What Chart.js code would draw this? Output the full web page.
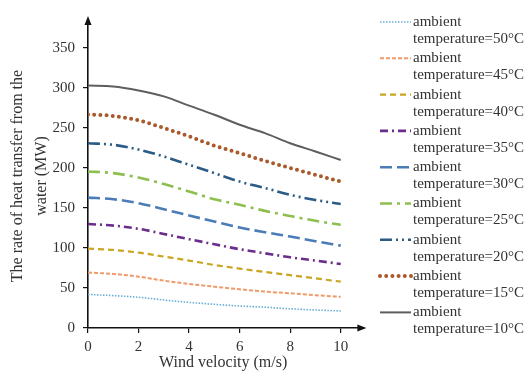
<!DOCTYPE html>
<html>
<head>
<meta charset="utf-8">
<script src="https://cdn.jsdelivr.net/npm/chart.js@4.4.0/dist/chart.umd.min.js"></script>
<style>
  html, body { margin: 0; padding: 0; background: #fff; }
</style>
</head>
<body>
<canvas id="heat-chart" width="527" height="374"></canvas>
<script>
/* ─── Data ───────────────────────────── */
const windVelocity = [0, 1, 2, 3, 4, 5, 6, 7, 8, 9, 10];
const ambientTemps = ['50', '45', '40', '35', '30', '25', '20', '15', '10'];
const yTicks = [0, 50, 100, 150, 200, 250, 300, 350];
const xTicks = [0, 2, 4, 6, 8, 10];

const heat50 = [42, 40.5, 38.4, 35, 32, 29.6, 27.5, 26, 24, 22.5, 21.3];
const heat45 = [69.3, 67.6, 64.2, 59.2, 55, 51.7, 48.4, 45.5, 43.4, 41, 39];
const heat40 = [99.3, 97.6, 94.3, 89.3, 84.3, 78.8, 74.3, 70, 66, 62, 58];
const heat35 = [130, 128, 124, 117.6, 111, 104.7, 98.5, 93.4, 88.4, 84.3, 80];
const heat30 = [163, 161, 156, 148.5, 140.6, 133, 125.6, 119.7, 114.3, 108.5, 103];
const heat25 = [195.7, 193.6, 188, 180, 170.6, 161, 154, 146.4, 140, 134, 129];
const heat20 = [231, 229, 223, 214.4, 204, 193.6, 183, 175, 166.5, 160, 155];
const heat15 = [267, 265, 259.5, 250, 239.5, 228, 218.6, 209, 200, 191.5, 183];
const heat10 = [303, 302, 297, 289.5, 278, 266.6, 254, 243.6, 231, 220.7, 210];

(function () {
  'use strict';

  const FONT = '"Liberation Serif", "Times New Roman", serif';
  const INK = '#333333';

  const STYLES = [
    { color: '#6aaed6', width: 1.6, dash: [1.5, 1.5], cap: 'butt' },
    { color: '#ef9a6a', width: 2,   dash: [4, 2],     cap: 'butt' },
    { color: '#c9a521', width: 2.2, dash: [6, 4],     cap: 'butt' },
    { color: '#6b2d8c', width: 2.6, dash: [8, 4, 2, 4], cap: 'butt' },
    { color: '#4b7cb8', width: 2.6, dash: [12, 5],    cap: 'butt' },
    { color: '#8dbf4e', width: 2.6, dash: [12, 5, 3, 5], cap: 'butt' },
    { color: '#2b5b86', width: 2.6, dash: [12, 4, 2, 4, 2, 4], cap: 'butt' },
    { color: '#a9592a', width: 4,   dash: [0, 6.2],   cap: 'round' },
    { color: '#5e5e5e', width: 2,   dash: [],         cap: 'butt' },
  ];
  const SERIES = [heat50, heat45, heat40, heat35, heat30, heat25, heat20, heat15, heat10];

  const datasets = SERIES.map((values, i) => ({
    label: 'ambient temperature=' + ambientTemps[i] + '°C',
    data: windVelocity.map((x, k) => ({ x, y: values[k] })),
    borderColor: STYLES[i].color,
    borderWidth: STYLES[i].width,
    borderDash: STYLES[i].dash,
    borderCapStyle: STYLES[i].cap,
    pointRadius: 0,
    fill: false,
    cubicInterpolationMode: 'monotone',
  }));

  /* ── axis arrows ── */
  const axisArrows = {
    id: 'axisArrows',
    afterDraw(chart) {
      const { ctx, chartArea } = chart;
      const { left, top, bottom, right } = chartArea;
      ctx.save();
      ctx.fillStyle = '#111';
      ctx.beginPath();
      ctx.moveTo(left, top - 8);
      ctx.lineTo(left - 3.5, top + 1);
      ctx.lineTo(left + 3.5, top + 1);
      ctx.closePath();
      ctx.fill();
      ctx.beginPath();
      ctx.moveTo(right + 8, bottom);
      ctx.lineTo(right - 1, bottom - 3.5);
      ctx.lineTo(right - 1, bottom + 3.5);
      ctx.closePath();
      ctx.fill();
      ctx.restore();
    },
  };

  /* ── two-line legend on the right ── */
  const sideLegend = {
    id: 'sideLegend',
    afterDraw(chart) {
      const ctx = chart.ctx;
      const top = 22, step = 36.3;
      chart.data.datasets.forEach((ds, i) => {
        const y = top + i * step;
        ctx.save();
        ctx.strokeStyle = ds.borderColor;
        ctx.lineWidth = ds.borderWidth;
        ctx.setLineDash(ds.borderDash);
        ctx.lineCap = ds.borderCapStyle;
        ctx.beginPath();
        ctx.moveTo(380, y);
        ctx.lineTo(411, y);
        ctx.stroke();
        ctx.restore();

        const parts = ds.label.split(' ');
        ctx.save();
        ctx.fillStyle = INK;
        ctx.font = '15px ' + FONT;
        ctx.textBaseline = 'middle';
        ctx.fillText(parts[0], 413, y);
        ctx.fillText(parts[1], 413, y + 17);
        ctx.restore();
      });
    },
  };

  new Chart(document.getElementById('heat-chart'), {
    type: 'line',
    data: { datasets },
    plugins: [axisArrows, sideLegend],
    options: {
      responsive: false,
      animation: false,
      layout: { padding: { top: 24, right: 168.6, bottom: 0, left: 0 } },
      plugins: { legend: { display: false }, tooltip: { enabled: false } },
      scales: {
        x: {
          type: 'linear',
          min: 0,
          max: 10.7,
          afterFit(scale) { scale.height = 46; },
          afterBuildTicks(scale) { scale.ticks = xTicks.map(v => ({ value: v })); },
          border: { display: true, color: '#111', width: 1.6 },
          grid: { display: true, drawOnChartArea: false, drawTicks: true, tickLength: 5, color: '#111', lineWidth: 1.2 },
          ticks: { color: INK, font: { family: FONT, size: 15 }, padding: 5, maxRotation: 0 },
          title: {
            display: true,
            text: 'Wind velocity (m/s)',
            color: INK,
            font: { family: FONT, size: 16 },
            padding: { top: 0, bottom: 2 },
          },
        },
        y: {
          min: 0,
          max: 380,
          afterFit(scale) { scale.width = 88; },
          afterBuildTicks(scale) { scale.ticks = yTicks.map(v => ({ value: v })); },
          border: { display: true, color: '#111', width: 1.6 },
          grid: { display: true, drawOnChartArea: false, drawTicks: true, tickLength: 5, color: '#111', lineWidth: 1.2 },
          ticks: { color: INK, font: { family: FONT, size: 15 }, padding: 8 },
          title: {
            display: true,
            text: ['The rate of heat transfer from the', 'water (MW)'],
            color: INK,
            font: { family: FONT, size: 16, lineHeight: 1.5 },
            padding: { top: 6, bottom: 0 },
          },
        },
      },
    },
  });
})();
</script>
</body>
</html>
